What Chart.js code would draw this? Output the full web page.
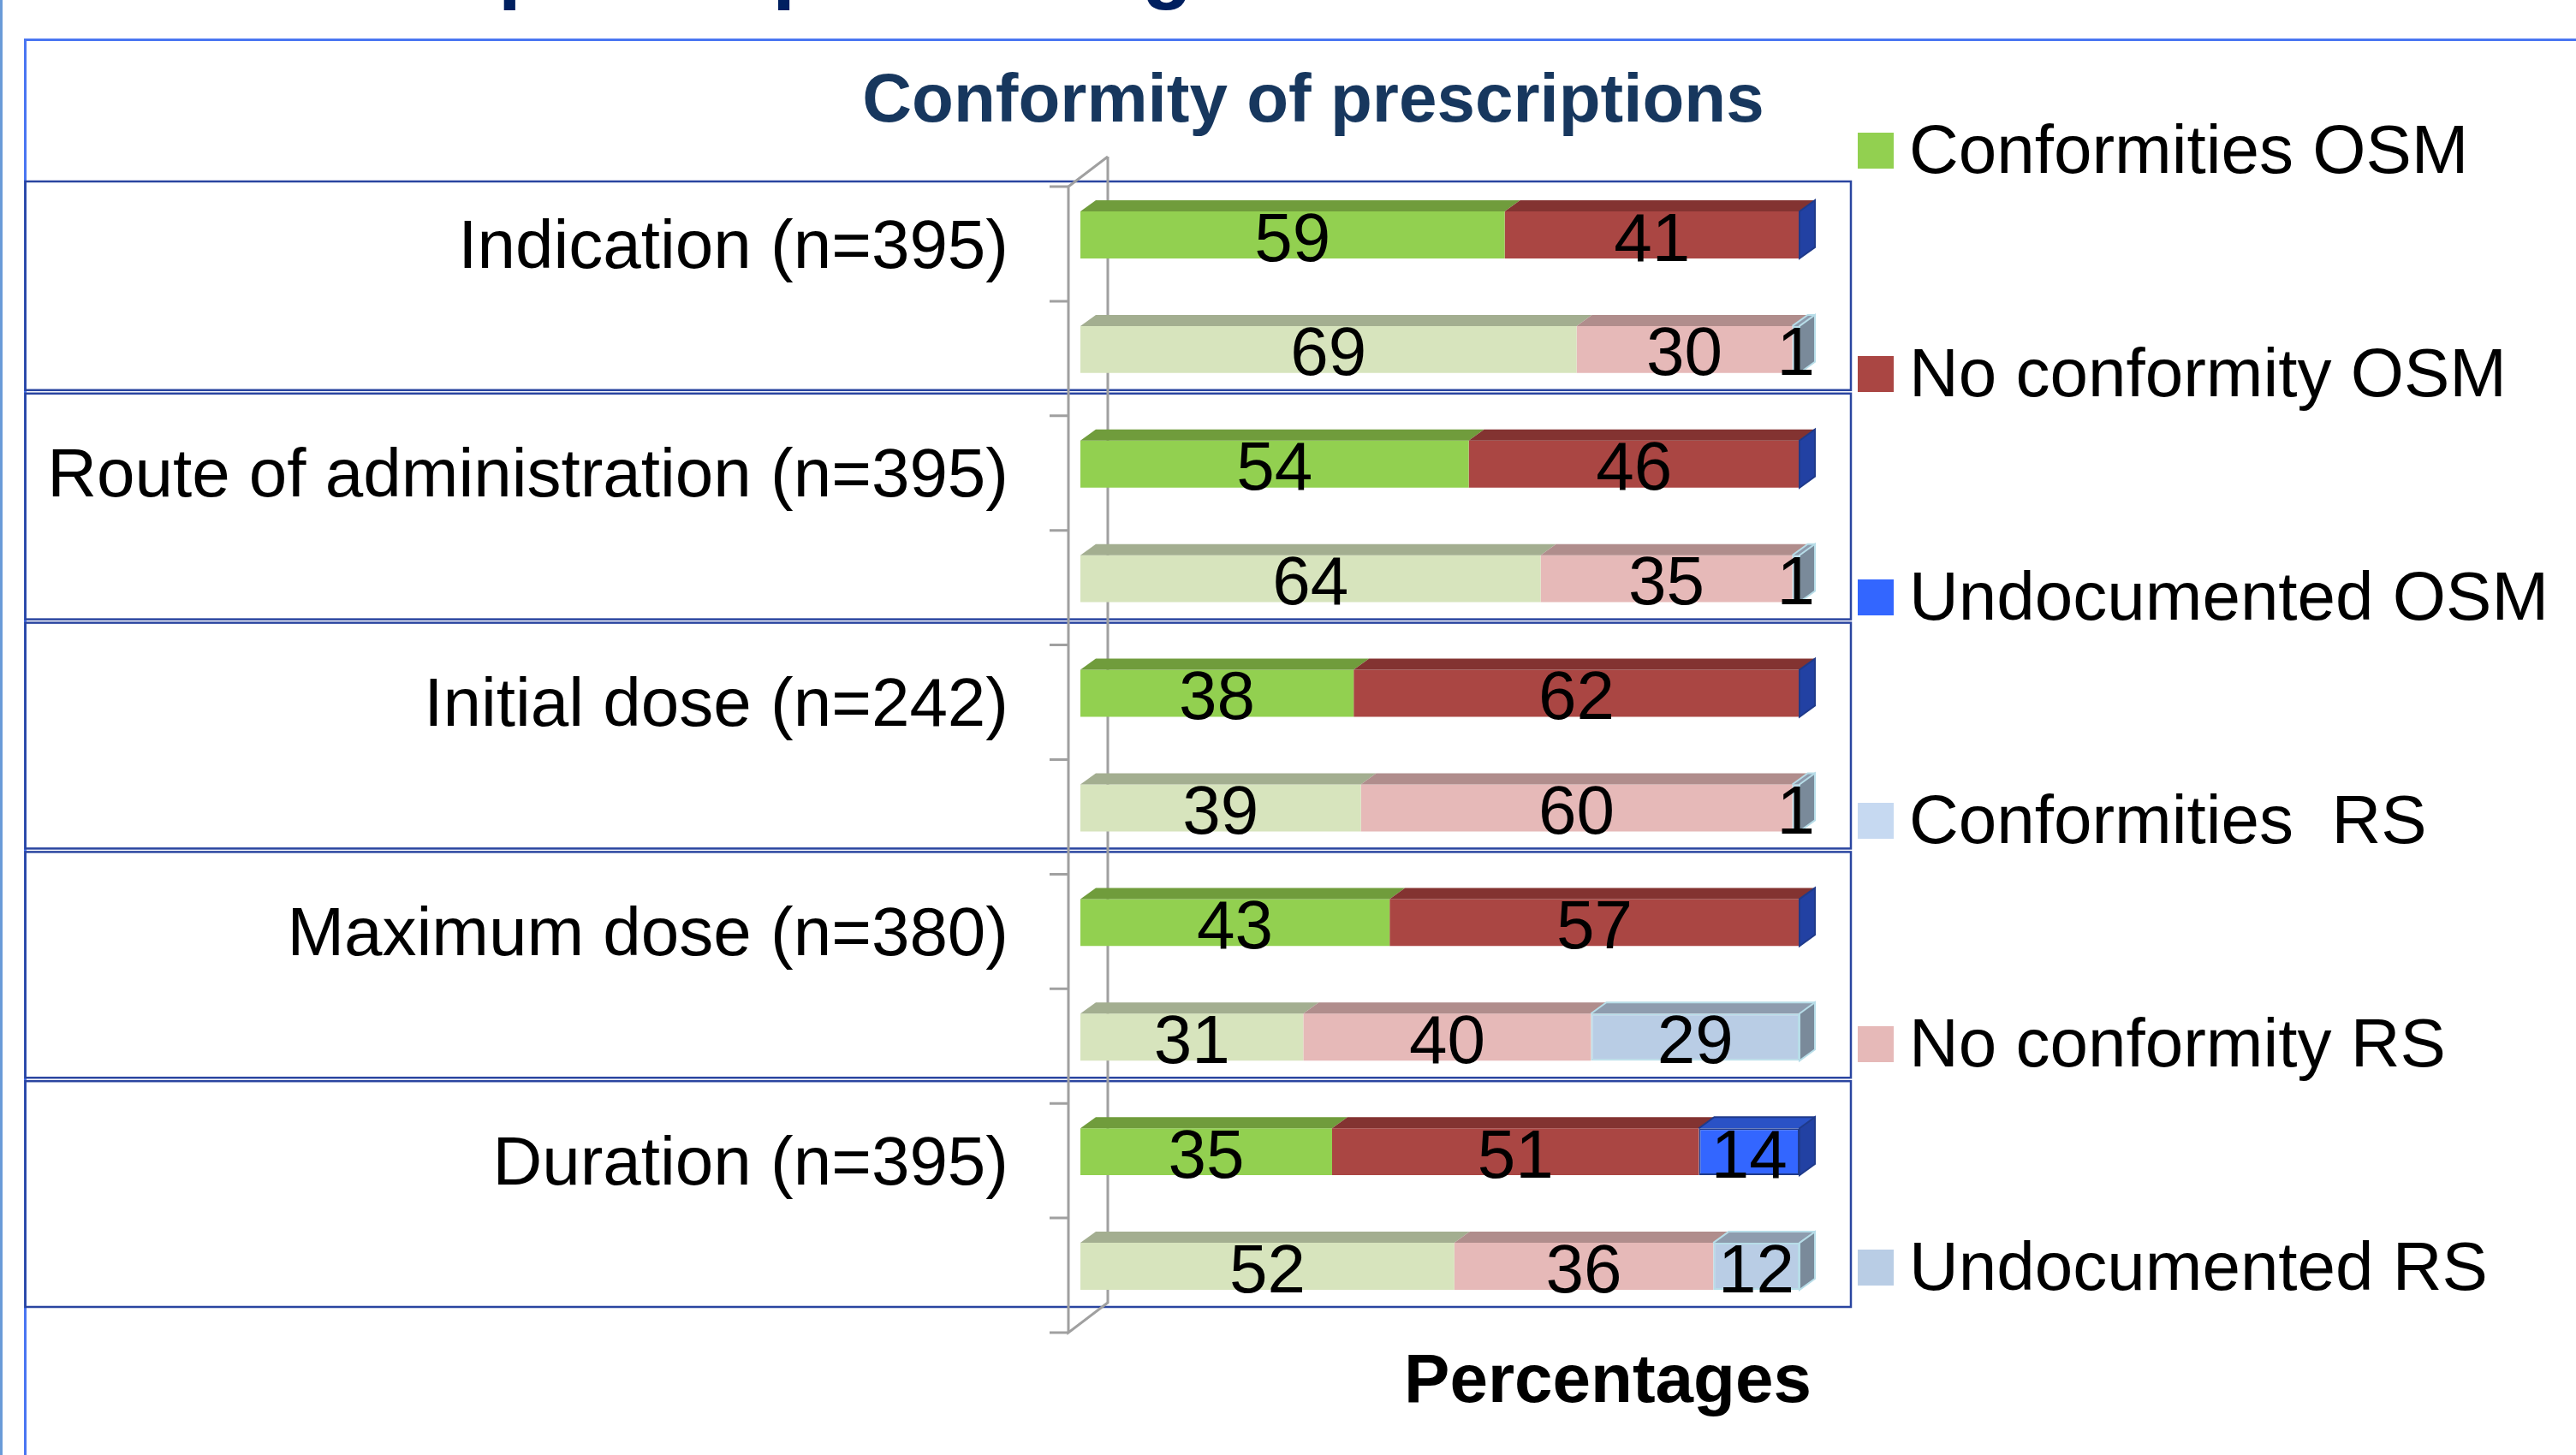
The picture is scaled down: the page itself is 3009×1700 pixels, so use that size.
<!DOCTYPE html>
<html>
<head>
<meta charset="utf-8">
<script src="https://cdn.jsdelivr.net/npm/chart.js@4/dist/chart.umd.min.js"></script>
<style>
  html, body { margin: 0; padding: 0; background: #ffffff; }
  #c { display: block; }
</style>
</head>
<body>
<canvas id="c" width="3009" height="1700"></canvas>
<script>
// ---------- DATA ----------
const categories = ['Indication (n=395)', 'Route of administration (n=395)', 'Initial dose (n=242)', 'Maximum dose (n=380)', 'Duration (n=395)'];
const conformOSM   = [59, 54, 38, 43, 35];
const noConformOSM = [41, 46, 62, 57, 51];
const undocOSM     = [0, 0, 0, 0, 14];
const conformRS    = [69, 64, 39, 31, 52];
const noConformRS  = [30, 35, 60, 40, 36];
const undocRS      = [1, 1, 1, 29, 12];
const seriesNames  = ['Conformities OSM', 'No conformity OSM', 'Undocumented OSM', 'Conformities  RS', 'No conformity RS', 'Undocumented RS'];
const chartTitle   = 'Conformity of prescriptions';
const axisTitle    = 'Percentages';
const slideTitle   = 'Adherence of prescriptions to guidelines';

// ---------- STYLES ----------
const FONT = "'Liberation Sans', Arial, sans-serif";
const frontColors  = ['#92D050', '#AA4643', '#3366FF', '#D7E4BD', '#E6B9B8', '#B9CDE5'];
const topColors    = ['#709C3C', '#833331', '#2A52C6', '#A3AE90', '#B08D8C', '#8E9CAE'];
const sideColors   = ['#5E8A30', '#6E2A28', '#2241A3', '#8E9A7C', '#9A7776', '#7A8A9A'];
const borderColors = ['rgba(255,255,255,0)', 'rgba(255,255,255,0)', '#1F3A8A', 'rgba(255,255,255,0)', 'rgba(255,255,255,0)', '#B7DDE8'];
const legendSwatch = ['#92D050', '#AA4643', '#3366FF', '#C6D9F1', '#E6B9B8', '#B9CDE5'];
const DX = 18, DY = -13;

// rows: each category gives an OSM row then an RS row
const rowLabels = categories.flatMap(c => [c, '']);
const osmRows = arr => arr.flatMap(v => [v, null]);
const rsRows  = arr => arr.flatMap(v => [null, v]);
const seriesData = [
  osmRows(conformOSM), osmRows(noConformOSM), osmRows(undocOSM),
  rsRows(conformRS), rsRows(noConformRS), rsRows(undocRS)
];

const datasets = seriesNames.map((name, i) => ({
  label: name,
  data: seriesData[i],
  backgroundColor: frontColors[i],
  borderColor: borderColors[i],
  borderWidth: (i === 2 || i === 5) ? 2 : 0,
  borderSkipped: false,
  categoryPercentage: 1.0,
  barPercentage: 0.41
}));

const deco3D = {
  id: 'deco3D',
  beforeDraw(chart) {
    const ctx = chart.ctx;
    ctx.save();
    // slide frame
    ctx.strokeStyle = '#6A9BD8';
    ctx.lineWidth = 3;
    ctx.beginPath(); ctx.moveTo(1.5, 0); ctx.lineTo(1.5, chart.height); ctx.stroke();
    ctx.strokeStyle = '#4A76F2';
    ctx.lineWidth = 3;
    ctx.beginPath();
    ctx.moveTo(chart.width, 46.5); ctx.lineTo(29.5, 46.5); ctx.lineTo(29.5, chart.height);
    ctx.stroke();
    // cut-off slide heading (only descenders visible)
    ctx.font = 'bold 96px ' + FONT;
    ctx.fillStyle = '#002060';
    ctx.textBaseline = 'alphabetic';
    ctx.textAlign = 'left';
    const pre = 'Adherence of ';
    ctx.fillText(slideTitle, 582 - ctx.measureText(pre).width, -8);
    ctx.restore();
  },
  beforeDatasetsDraw(chart) {
    const ctx = chart.ctx;
    const ys = chart.scales.y;
    const area = chart.chartArea;
    const tickY = k => ys.getPixelForValue(k - 0.5) + 10.5;
    ctx.save();
    // group boxes
    ctx.strokeStyle = '#2A45A0';
    ctx.lineWidth = 2.5;
    let prevBottom = null;
    for (let g = 0; g < categories.length; g++) {
      const top = g === 0 ? tickY(0) - 6 : prevBottom + 4;
      const bottom = tickY(2 * g + 2) - 30;
      ctx.strokeRect(29.5, top, (area.right + 60) - 29.5, bottom - top);
      prevBottom = bottom;
    }
    // 3D category axis
    ctx.strokeStyle = '#A0A0A0';
    ctx.lineWidth = 3;
    const fx = area.left - 14, bx = area.left + 32;
    const t0 = tickY(0), tN = tickY(rowLabels.length);
    ctx.beginPath();
    ctx.moveTo(bx, t0 - 35); ctx.lineTo(bx, tN - 35); ctx.lineTo(fx, tN);
    ctx.lineTo(fx, t0); ctx.lineTo(bx, t0 - 35);
    ctx.stroke();
    ctx.beginPath();
    for (let k = 0; k <= rowLabels.length; k++) {
      ctx.moveTo(fx - 22, tickY(k)); ctx.lineTo(fx, tickY(k));
    }
    ctx.stroke();
    ctx.restore();
  },
  afterDatasetsDraw(chart) {
    const ctx = chart.ctx;
    ctx.save();
    const rowInfo = [];
    chart.data.datasets.forEach((ds, di) => {
      const meta = chart.getDatasetMeta(di);
      meta.data.forEach((el, i) => {
        const v = ds.data[i];
        if (v === null || v === undefined) return;
        const p = el.getProps(['x', 'y', 'base', 'height'], true);
        const top = p.y - p.height / 2, bottom = p.y + p.height / 2;
        const left = Math.min(p.x, p.base), right = Math.max(p.x, p.base);
        // top face
        if (right > left) {
          ctx.fillStyle = topColors[di];
          ctx.beginPath();
          ctx.moveTo(left, top); ctx.lineTo(right, top);
          ctx.lineTo(right + DX, top + DY); ctx.lineTo(left + DX, top + DY);
          ctx.closePath(); ctx.fill();
        }
        rowInfo.push({di, i, v, left, right, top, bottom, y: p.y});
      });
    });
    // side face at the end of each stacked row (last series of each group)
    rowInfo.filter(r => r.di === 2 || r.di === 5).forEach(r => {
      ctx.fillStyle = sideColors[r.di];
      ctx.beginPath();
      ctx.moveTo(r.right, r.top); ctx.lineTo(r.right + DX, r.top + DY);
      ctx.lineTo(r.right + DX, r.bottom + DY); ctx.lineTo(r.right, r.bottom);
      ctx.closePath(); ctx.fill();
      ctx.strokeStyle = r.di === 2 ? '#1F3A8A' : '#B7DDE8';
      ctx.lineWidth = 2;
      ctx.stroke();
      if (r.right > r.left) {
        ctx.beginPath();
        ctx.moveTo(r.left, r.top); ctx.lineTo(r.left + DX, r.top + DY);
        ctx.lineTo(r.right + DX, r.top + DY);
        ctx.stroke();
      }
    });
    // value labels
    ctx.font = '80px ' + FONT;
    ctx.fillStyle = '#000000';
    ctx.textAlign = 'center';
    ctx.textBaseline = 'middle';
    rowInfo.forEach(r => {
      if (r.v > 0) ctx.fillText(String(r.v), (r.left + r.right) / 2, r.y + 8);
    });
    ctx.restore();
  },
  afterDraw(chart) {
    const ctx = chart.ctx;
    ctx.save();
    // chart title
    ctx.font = 'bold 80px ' + FONT;
    ctx.fillStyle = '#17375E';
    ctx.textAlign = 'center';
    ctx.textBaseline = 'alphabetic';
    ctx.fillText(chartTitle, 1534, 142);
    // axis title
    ctx.fillStyle = '#000000';
    ctx.fillText(axisTitle, 1878, 1638);
    // legend
    ctx.font = '80px ' + FONT;
    ctx.textAlign = 'left';
    ctx.textBaseline = 'middle';
    seriesNames.forEach((name, i) => {
      const cy = 176 + 261 * i;
      ctx.fillStyle = legendSwatch[i];
      ctx.fillRect(2170, cy - 21, 42, 42);
      ctx.fillStyle = '#000000';
      ctx.fillText(name, 2230, cy + 4);
    });
    ctx.restore();
  }
};

new Chart(document.getElementById('c'), {
  type: 'bar',
  data: { labels: rowLabels, datasets },
  options: {
    indexAxis: 'y',
    responsive: false,
    animation: false,
    layout: { padding: { left: 0, top: 207.5, right: 907, bottom: 153.5 } },
    plugins: {
      legend: { display: false },
      title: { display: false },
      tooltip: { enabled: false }
    },
    scales: {
      x: { stacked: true, min: 0, max: 100, display: false },
      y: {
        stacked: true,
        offset: true,
        grid: { display: false, drawTicks: false, tickLength: 0 },
        border: { display: false },
        ticks: {
          autoSkip: false,
          color: '#000000',
          font: { family: FONT, size: 80 },
          padding: 84,
          labelOffset: 16
        },
        afterFit(s) { s.width = 1262; }
      }
    }
  },
  plugins: [deco3D]
});
</script>
</body>
</html>
